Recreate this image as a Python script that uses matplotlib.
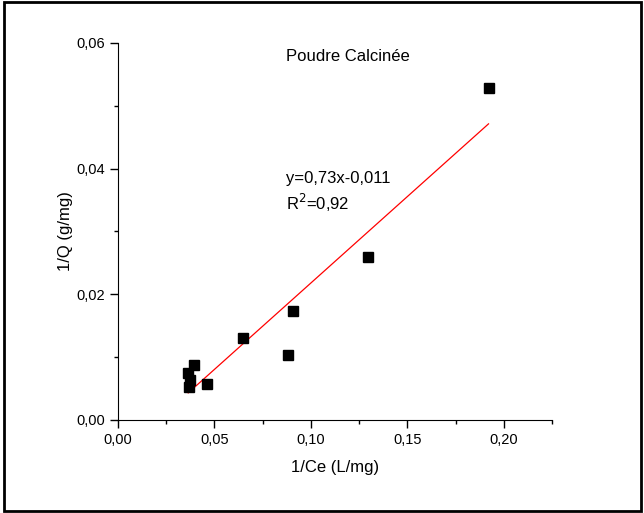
import matplotlib
matplotlib.use('Agg')
import matplotlib.pyplot as plt
from matplotlib.patches import Rectangle
from matplotlib.ticker import MultipleLocator, FuncFormatter

plt.rcParams['font.family'] = ['Liberation Sans', 'DejaVu Sans']

# Data
inv_ce = [0.1921, 0.1298, 0.0909, 0.0883, 0.0649, 0.0462, 0.0394, 0.0364, 0.0372, 0.0368]
inv_q = [0.0528, 0.0259, 0.0173, 0.0103, 0.0130, 0.0057, 0.0087, 0.0075, 0.0064, 0.0053]

# Fitted line as drawn in the figure
fit_slope = 0.275
fit_intercept = -0.0057
fit_x = [min(inv_ce), max(inv_ce)]
fit_y = [fit_slope * x + fit_intercept for x in fit_x]

fig = plt.figure(figsize=(6.44, 5.13), dpi=100)
ax = fig.add_axes([0.1832, 0.1813, 0.6739, 0.7349])

ax.plot(fit_x, fit_y, color='red', linewidth=0.9)
ax.plot(inv_ce, inv_q, 's', color='black', markersize=6.5)

ax.set_xlim(0, 0.225)
ax.set_ylim(0, 0.06)
ax.xaxis.set_major_locator(MultipleLocator(0.05))
ax.xaxis.set_minor_locator(MultipleLocator(0.025))
ax.yaxis.set_major_locator(MultipleLocator(0.02))
ax.yaxis.set_minor_locator(MultipleLocator(0.01))
fmt = FuncFormatter(lambda v, p: ('%.2f' % v).replace('.', ','))
ax.xaxis.set_major_formatter(fmt)
ax.yaxis.set_major_formatter(fmt)

ax.spines['top'].set_visible(False)
ax.spines['right'].set_visible(False)
ax.tick_params(which='major', direction='out', length=6, width=1, labelsize=10.5)
ax.tick_params(which='minor', direction='out', length=3, width=1)

ax.set_xlabel('1/Ce (L/mg)', fontsize=12, labelpad=9)
ax.set_ylabel('1/Q (g/mg)', fontsize=12, labelpad=2)

ax.text(0.0872, 0.0578, 'Poudre Calcinée', fontsize=12, va='center')
ax.text(0.0872, 0.0384, 'y=0,73x-0,011', fontsize=12, va='center')
ax.text(0.0872, 0.0345, 'R$^2$=0,92', fontsize=12, va='center')

# outer frame
fig.patches.append(Rectangle((0.006, 0.004), 0.99, 0.992, transform=fig.transFigure,
                             fill=False, edgecolor='black', linewidth=2))

fig.savefig('out.png', dpi=100)
